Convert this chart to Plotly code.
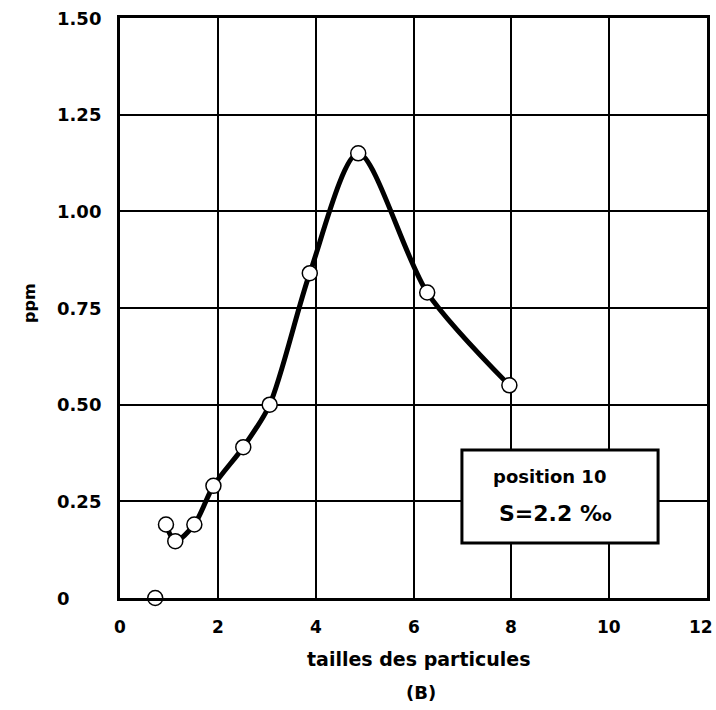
import plotly.graph_objects as go

# Data
x_taille = [0.94, 1.13, 1.52, 1.91, 2.52, 3.06, 3.88, 4.87, 6.28, 7.96]
y_ppm = [0.19, 0.147, 0.19, 0.29, 0.39, 0.50, 0.84, 1.15, 0.79, 0.55]
x_isolated = [0.72]
y_isolated = [0.0]

x_ticks = [0, 2, 4, 6, 8, 10, 12]
x_ticktext = ["0", "2", "4", "6", "8", "10", "12"]
y_ticks = [0, 0.25, 0.5, 0.75, 1.0, 1.25, 1.5]
y_ticktext = ["0", "0.25", "0.50", "0.75", "1.00", "1.25", "1.50"]

FONT = "DejaVu Sans"
W = "bold"

fig = go.Figure()

fig.add_trace(go.Scatter(
    x=x_taille, y=y_ppm, mode="lines",
    line=dict(color="black", width=5, shape="spline", smoothing=0.8),
    hoverinfo="skip", showlegend=False,
))
fig.add_trace(go.Scatter(
    x=x_taille + x_isolated, y=y_ppm + y_isolated, mode="markers",
    marker=dict(size=15, color="white", line=dict(color="black", width=1.5)),
    showlegend=False, cliponaxis=False,
))

# annotation box
fig.add_shape(type="rect", xref="x", yref="y", x0=6.99, x1=11.0, y0=0.142, y1=0.383,
              line=dict(color="black", width=3), fillcolor="white", layer="above")
fig.add_annotation(x=8.79, y=0.313, xref="x", yref="y", text="position 10",
                   showarrow=False, font=dict(family=FONT, size=18, color="black", weight=W))
fig.add_annotation(x=8.9, y=0.218, xref="x", yref="y", text="S=2.2 ‰",
                   showarrow=False, font=dict(family=FONT, size=22, color="black", weight=W))

# x tick labels (placed under the axis, so the last one is not dropped)
for v, t in zip(x_ticks, x_ticktext):
    last = (v == x_ticks[-1])
    fig.add_annotation(x=v, y=-0.05, xref="x", yref="paper", text=t,
                       xanchor="right" if last else "center",
                       xshift=8 if last else 0,
                       yanchor="middle", showarrow=False,
                       font=dict(family=FONT, size=17, color="black", weight=W))

# y tick labels, left aligned as in the original
for v, t in zip(y_ticks, y_ticktext):
    fig.add_annotation(x=-0.111, y=v, xref="paper", yref="y", text=t,
                       xanchor="left", yanchor="middle", showarrow=False,
                       font=dict(family=FONT, size=18, color="black", weight=W))

# axis titles and caption
fig.add_annotation(x=0.51, y=-0.105, xref="paper", yref="paper",
                   text="tailles des particules", yanchor="middle", showarrow=False,
                   font=dict(family=FONT, size=19, color="black", weight=W))
fig.add_annotation(x=0.512, y=-0.163, xref="paper", yref="paper", text="(B)",
                   yanchor="middle", showarrow=False,
                   font=dict(family=FONT, size=18, color="black", weight=W))
fig.add_annotation(x=-0.154, y=0.508, xref="paper", yref="paper", text="ppm",
                   textangle=-90, xanchor="center", yanchor="middle", showarrow=False,
                   font=dict(family=FONT, size=16, color="black", weight=W))

fig.update_layout(
    width=716, height=710,
    margin=dict(l=120, r=9, t=18, b=112, autoexpand=False),
    paper_bgcolor="white", plot_bgcolor="white",
    font=dict(family=FONT, color="black"),
    xaxis=dict(
        range=[0, 12], tickvals=x_ticks, showticklabels=False,
        showgrid=True, gridcolor="black", gridwidth=1.5,
        showline=True, linecolor="black", linewidth=3, mirror=True,
        ticks="", zeroline=False, automargin=False,
    ),
    yaxis=dict(
        range=[0, 1.5], tickvals=y_ticks, showticklabels=False,
        showgrid=True, gridcolor="black", gridwidth=1.5,
        showline=True, linecolor="black", linewidth=3, mirror=True,
        ticks="", zeroline=False, automargin=False,
    ),
)

fig.write_html("out.html")
